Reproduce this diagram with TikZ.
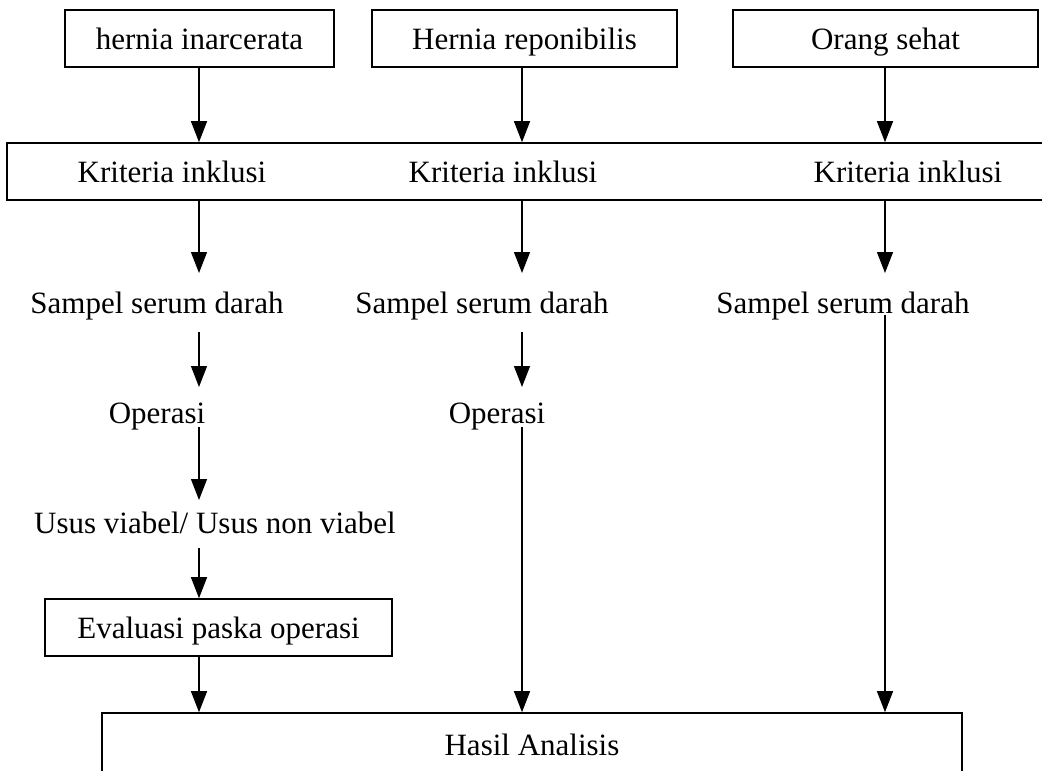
\documentclass[tikz,border=0pt]{standalone}
\usepackage{fontspec}
\setmainfont{Liberation Serif}
\usetikzlibrary{arrows.meta}
\begin{document}
\begin{tikzpicture}[x=1pt,y=-1pt,
  every node/.style={font=\fontsize{31}{37}\selectfont},
  boxnode/.style={draw, line width=1.6pt, inner sep=0pt, text height=21pt, text depth=0pt},
  lbl/.style={inner sep=0pt, anchor=base},
  arr/.style={line width=1.3pt, -{Triangle[width=16pt,length=21pt]}},
  ln/.style={line width=1.3pt}]
\useasboundingbox (0,0) rectangle (1042,771);
\clip (0,0) rectangle (1042,771);
\fill[white] (0,0) rectangle (1042,771);
% columns
\coordinate (c1) at (199,0);
\coordinate (c2) at (522,0);
\coordinate (c3) at (885,0);
% top boxes
\node[boxnode, minimum width=269pt, minimum height=57pt] (t1) at (199.5,38.5) {hernia inarcerata};
\node[boxnode, minimum width=305pt, minimum height=57pt] (t2) at (524.5,38.5) {Hernia reponibilis};
\node[boxnode, minimum width=305pt, minimum height=57pt] (t3) at (885.5,38.5) {Orang sehat};
% kriteria box
\node[boxnode, minimum width=1043pt, minimum height=57pt] (krit) at (528.5,171.5) {};
\node[lbl] (k1) at (172,182.5) {Kriteria inklusi};
\node[lbl] (k2) at (503,182.5) {Kriteria inklusi};
\node[lbl] (k3) at (908,182.5) {Kriteria inklusi};
% sampel
\node[lbl] (s1) at (157,313) {Sampel serum darah};
\node[lbl] (s2) at (482,313) {Sampel serum darah};
\node[lbl] (s3) at (843,313) {Sampel serum darah};
% operasi
\node[lbl] (o1) at (157,423) {Operasi};
\node[lbl] (o2) at (497,423) {Operasi};
% usus
\node[lbl] (u1) at (215,533) {Usus viabel/ Usus non viabel};
% evaluasi
\node[boxnode, minimum width=347pt, minimum height=57pt] (ev) at (218.5,627.5) {Evaluasi paska operasi};
% hasil
\node[boxnode, minimum width=860pt, minimum height=64pt] (hasil) at (532,745) {Hasil Analisis};
% column 1
\draw[arr] (t1.south -| c1) -- (krit.north -| c1);
\draw[arr] (krit.south -| c1) -- ([yshift=40pt]s1.base -| c1);
\draw[arr] ([yshift=-19pt]s1.base -| c1) -- ([yshift=36pt]o1.base -| c1);
\draw[arr] ([yshift=-4pt]o1.base -| c1) -- ([yshift=33pt]u1.base -| c1);
\draw[arr] ([yshift=-15pt]u1.base -| c1) -- (ev.north -| c1);
\draw[arr] (ev.south -| c1) -- (hasil.north -| c1);
% column 2
\draw[arr] (t2.south -| c2) -- (krit.north -| c2);
\draw[arr] (krit.south -| c2) -- ([yshift=40pt]s2.base -| c2);
\draw[arr] ([yshift=-19pt]s2.base -| c2) -- ([yshift=36pt]o2.base -| c2);
\draw[arr] ([yshift=-4pt]o2.base -| c2) -- (hasil.north -| c2);
% column 3
\draw[arr] (t3.south -| c3) -- (krit.north -| c3);
\draw[arr] (krit.south -| c3) -- ([yshift=40pt]s3.base -| c3);
\draw[arr] ([yshift=-2pt]s3.base -| c3) -- (hasil.north -| c3);
\end{tikzpicture}
\end{document}
